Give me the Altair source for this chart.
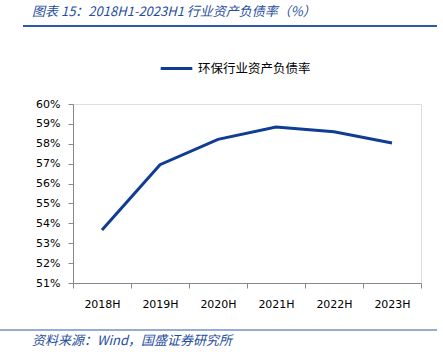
import altair as alt
import pandas as pd

years = ["2018H", "2019H", "2020H", "2021H", "2022H", "2023H"]
ratio = [53.67, 56.95, 58.22, 58.84, 58.60, 58.04]
series_name = "环保行业资产负债率"
title_text = "图表 15：2018H1-2023H1 行业资产负债率（%）"
source_text = "资料来源：Wind，国盛证券研究所"
y_ticks = [0.51, 0.52, 0.53, 0.54, 0.55, 0.56, 0.57, 0.58, 0.59, 0.60]

df = pd.DataFrame({"year": years, "ratio": [v / 100 for v in ratio], "series": series_name})

BLUE = "#0e3d93"
HEAD = "#1f4e9c"
W, H = 348, 179

line = alt.Chart(df).mark_line(strokeWidth=3).encode(
    x=alt.X("year:N", sort=years, title=None,
            scale=alt.Scale(type="band", paddingInner=0, paddingOuter=0),
            axis=alt.Axis(tickBand="extent", labelAngle=0, labelFont="DejaVu Sans",
                          labelFontSize=11, labelColor="#000", labelPadding=10,
                          domainColor="#888", tickColor="#888", tickSize=5, grid=False)),
    y=alt.Y("ratio:Q", title=None,
            scale=alt.Scale(domain=[0.51, 0.60], nice=False, zero=False),
            axis=alt.Axis(values=y_ticks, format=".0%", labelFont="DejaVu Sans",
                          labelFontSize=11, labelColor="#000", labelPadding=8,
                          domainColor="#888", tickColor="#888", tickSize=5, grid=False)),
    color=alt.Color("series:N", scale=alt.Scale(range=[BLUE]),
                    legend=alt.Legend(title=None, orient="none", legendX=86, legendY=-53,
                                      symbolType="stroke", symbolSize=1000,
                                      symbolStrokeWidth=3.2, labelFont="Noto Sans CJK SC",
                                      labelFontSize=12.5, labelColor="#000", labelOffset=4)),
)

title = alt.Chart(pd.DataFrame({"t": [title_text]})).mark_text(
    align="left", baseline="middle", fontSize=13, fontStyle="italic",
    font="Noto Sans CJK SC", color=HEAD
).encode(x=alt.value(-41), y=alt.value(-92), text="t:N")

footer = alt.Chart(pd.DataFrame({"t": [source_text]})).mark_text(
    align="left", baseline="middle", fontSize=13, fontStyle="italic",
    font="Noto Sans CJK SC", color=HEAD
).encode(x=alt.value(-41), y=alt.value(237), text="t:N")

rule_top = alt.Chart(pd.DataFrame({"a": [0]})).mark_rule(color="#2c5aa8", strokeWidth=2).encode(
    x=alt.value(-50), x2=alt.value(364), y=alt.value(-78))
rule_bot = alt.Chart(pd.DataFrame({"a": [0]})).mark_rule(color="#2c5aa8", strokeWidth=1.2).encode(
    x=alt.value(-73), x2=alt.value(364), y=alt.value(226))

chart = alt.layer(line, title, footer, rule_top, rule_bot).properties(
    width=W, height=H,
    autosize=alt.AutoSizeParams(type="none"),
    padding={"left": 73, "top": 104, "right": 22, "bottom": 69},
).configure_view(stroke=None).configure(background="white")

chart.save("out.html", embed_options={"renderer": "svg", "actions": False})
